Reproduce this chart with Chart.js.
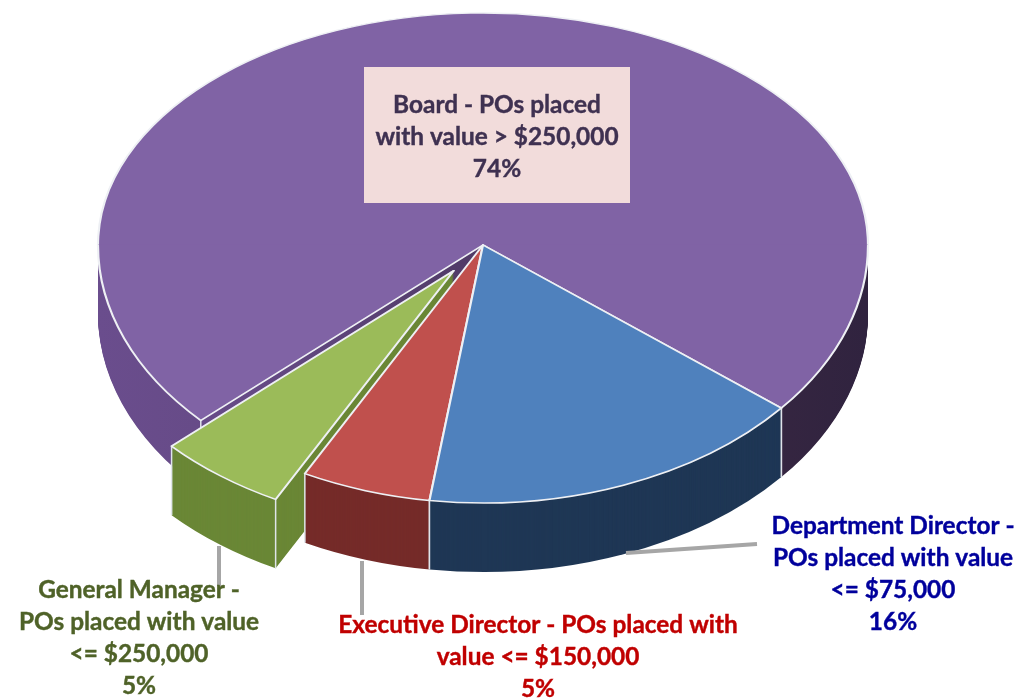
<!DOCTYPE html>
<html>
<head>
<meta charset="utf-8">
<title>PO approvals</title>
<script src="https://cdn.jsdelivr.net/npm/chart.js@4/dist/chart.umd.min.js"></script>
<style>
  html, body { margin: 0; padding: 0; background: #fff; }
  canvas { display: block; }
</style>
</head>
<body>
<canvas id="poChart" width="1031" height="698"></canvas>
<script>
// slice shares, each rounds to its printed percent
const categories = ['Board', 'Department Director', 'Executive Director', 'General Manager'];
const shares = [73.5, 16.49, 5.49, 5.49];
const percentLabels = ['74%', '16%', '5%', '5%'];
const labelLines = [
  ['Board - POs placed', 'with value > $250,000'],
  ['Department Director -', 'POs placed with value', '<= $75,000'],
  ['Executive Director - POs placed with', 'value <= $150,000'],
  ['General Manager -', 'POs placed with value', '<= $250,000']
];

const topColors = ['#8063a5', '#4f81bd', '#c0504d', '#9bbb59'];
const wallColors = [null, '#1f3755', '#752b29', '#6a8736'];
const textColors = ['#3f3151', '#00009c', '#c00000', '#4f6228'];
const labelSpots = [[497, 105], [893, 526], [538, 625], [139, 590]];
const LINE_HEIGHT = 32;

// the pie is a squashed circle, apex sits above the ellipse middle so top and bottom scale differently
const PIE = { cx: 483, cy: 245, rx: 385, ryUp: 232, ryDown: 258, depth: 69 };
const EXPLODE = [0, 0, 0, 0.125];
const DRAW_ORDER = [0, 3, 2, 1];

function withStyle(arc, style, fn) {
  const saved = arc.options;
  arc.options = Object.assign({
    borderWidth: 0, borderColor: '#fff', borderRadius: 0, borderAlign: 'center',
    spacing: 0, offset: 0, circular: true, borderJoinStyle: 'round'
  }, style);
  fn();
  arc.options = saved;
}

function explodeOf(arc, i) {
  const mid = (arc.startAngle + arc.endAngle) / 2;
  return {
    x: Math.cos(mid) * EXPLODE[i] * PIE.rx,
    y: Math.sin(mid) * EXPLODE[i] * PIE.ryDown
  };
}

function paintArc(ctx, chart, arc, i, dy) {
  const shift = explodeOf(arc, i);
  const R = arc.outerRadius;
  const midY = PIE.cy + dy + shift.y;
  [[PIE.ryUp, -50, midY + 0.5 + 50], [PIE.ryDown, midY - 0.5, chart.height + 50]].forEach(([ry, top, h]) => {
    ctx.save();
    ctx.beginPath();
    ctx.rect(0, top, chart.width, h);
    ctx.clip();
    ctx.translate(PIE.cx + shift.x, midY);
    ctx.scale(PIE.rx / R, ry / R);
    ctx.translate(-arc.x, -arc.y);
    arc.draw(ctx);
    ctx.restore();
  });
}

function rimPoint(arc, i, angle) {
  const shift = explodeOf(arc, i);
  const ry = Math.sin(angle) < 0 ? PIE.ryUp : PIE.ryDown;
  return [PIE.cx + shift.x + Math.cos(angle) * PIE.rx, PIE.cy + shift.y + Math.sin(angle) * ry];
}

const pie3d = {
  id: 'pie3d',
  beforeDatasetsDraw(chart) {
    const ctx = chart.ctx;
    const arcs = chart.getDatasetMeta(0).data;
    const R = arcs[0].outerRadius;

    const purpleWall = ctx.createLinearGradient(arcs[0].x - R, 0, arcs[0].x + R, 0);
    purpleWall.addColorStop(0, '#6a4d8d');
    purpleWall.addColorStop(0.2, '#654a85');
    purpleWall.addColorStop(0.85, '#362641');
    purpleWall.addColorStop(1, '#30233f');

    DRAW_ORDER.forEach(i => {
      const arc = arcs[i];
      withStyle(arc, { backgroundColor: wallColors[i] || purpleWall }, () => {
        for (let d = PIE.depth; d > 0; d--) paintArc(ctx, chart, arc, i, d);
      });
      // seams down the wall at each slice corner
      ctx.save();
      ctx.strokeStyle = '#dfe4ea';
      ctx.lineWidth = 1.5;
      [arc.startAngle, arc.endAngle].forEach(a => {
        if (Math.sin(a) <= 0) return;
        const [x, y] = rimPoint(arc, i, a);
        ctx.beginPath();
        ctx.moveTo(x, y);
        ctx.lineTo(x, y + PIE.depth);
        ctx.stroke();
      });
      ctx.restore();
      withStyle(arc, { backgroundColor: topColors[i], borderColor: '#eef0f4', borderWidth: 2 }, () => {
        paintArc(ctx, chart, arc, i, 0);
      });
    });
    return false;
  },
  afterDraw(chart) {
    const ctx = chart.ctx;
    ctx.save();

    // leader lines
    ctx.strokeStyle = '#a6a6a6';
    ctx.lineWidth = 4;
    [[[626, 553], [757, 544]], [[362, 561], [362, 615]], [[219, 546], [219, 586]]].forEach(([a, b]) => {
      ctx.beginPath();
      ctx.moveTo(a[0], a[1]);
      ctx.lineTo(b[0], b[1]);
      ctx.stroke();
    });

    // box behind the board label
    ctx.fillStyle = '#f2dcdb';
    ctx.fillRect(364, 67, 266, 136);

    ctx.font = 'bold 24.4px Lato';
    ctx.textAlign = 'center';
    ctx.textBaseline = 'middle';
    ctx.lineWidth = 0.4;
    labelLines.forEach((lines, i) => {
      ctx.fillStyle = textColors[i];
      ctx.strokeStyle = textColors[i];
      lines.concat(percentLabels[i]).forEach((line, n) => {
        const y = labelSpots[i][1] + n * LINE_HEIGHT;
        ctx.fillText(line, labelSpots[i][0], y);
        ctx.strokeText(line, labelSpots[i][0], y);
      });
    });
    ctx.restore();
  }
};

new Chart(document.getElementById('poChart'), {
  type: 'pie',
  data: {
    labels: categories,
    datasets: [{ data: shares, backgroundColor: topColors, borderWidth: 0 }]
  },
  options: {
    responsive: false,
    animation: false,
    rotation: -132.86,
    plugins: { legend: { display: false }, tooltip: { enabled: false } }
  },
  plugins: [pie3d]
});
</script>
</body>
</html>
